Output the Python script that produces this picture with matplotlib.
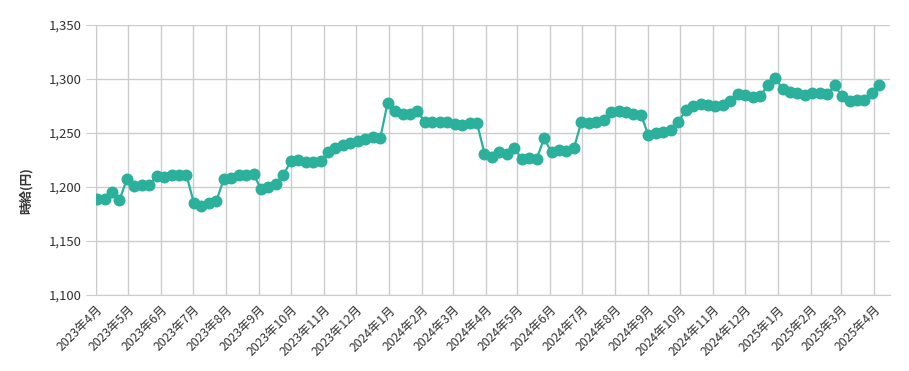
import matplotlib
matplotlib.use("Agg")
import matplotlib.pyplot as plt
import matplotlib.ticker as mticker
import pandas as pd

plt.rcParams["font.family"] = ["Noto Sans CJK JP", "DejaVu Sans"]

# weekly observations, first week of April 2023 to first week of April 2025
week_start = "2023-04-02"
n_weeks = 106
wages = [
    1189, 1189, 1195, 1188, 1207, 1201, 1202, 1202, 1210, 1209,
    1211, 1211, 1211, 1185, 1182, 1185, 1187, 1207, 1208, 1211,
    1211, 1212, 1198, 1200, 1203, 1211, 1224, 1225, 1223, 1223,
    1224, 1232, 1236, 1239, 1241, 1243, 1244, 1246, 1245, 1278,
    1270, 1268, 1268, 1270, 1260, 1260, 1260, 1260, 1258, 1257,
    1259, 1259, 1231, 1228, 1232, 1231, 1236, 1226, 1227, 1226,
    1245, 1232, 1234, 1233, 1236, 1260, 1259, 1260, 1262, 1269,
    1270, 1269, 1268, 1267, 1248, 1250, 1251, 1253, 1260, 1271,
    1275, 1277, 1276, 1275, 1276, 1280, 1286, 1285, 1283, 1284,
    1294, 1301, 1291, 1288, 1287, 1285, 1287, 1287, 1286, 1294,
    1284, 1280, 1281, 1281, 1287, 1294,
]
month_ticks = pd.date_range("2023-04-01", "2025-04-01", freq="MS")
month_labels = [f"{d.year}年{d.month}月" for d in month_ticks]

dates = pd.date_range(week_start, periods=n_weeks, freq="7D")

fig = plt.figure(figsize=(9.09, 3.71), dpi=100)
ax = fig.add_axes([96 / 909, 1 - 295 / 371, (890 - 96) / 909, 270 / 371])

ax.plot(dates, wages, color="#2bb09b", linewidth=1.6, marker="o",
        markersize=8.6, markeredgewidth=0, zorder=3)

ax.set_ylim(1100, 1350)
ax.set_yticks([1100, 1150, 1200, 1250, 1300, 1350])
ax.yaxis.set_major_formatter(mticker.StrMethodFormatter("{x:,.0f}"))
ax.set_xlim(pd.Timestamp("2023-04-01"), pd.Timestamp("2025-04-16"))
ax.set_xticks(month_ticks)
ax.set_xticklabels(month_labels, rotation=45, ha="right", rotation_mode="anchor")

ax.grid(True, color="#cccccc", linewidth=1)
ax.set_axisbelow(True)
for side in ["top", "right"]:
    ax.spines[side].set_visible(False)
for side in ["left", "bottom"]:
    ax.spines[side].set_color("#cccccc")
ax.tick_params(axis="y", length=7, color="#cccccc", labelsize=9.5,
               labelcolor="#333333", pad=3)
ax.tick_params(axis="x", length=0, labelsize=8.8, labelcolor="#333333", pad=6)

ax.set_ylabel("時給(円)", fontsize=9, fontweight="bold", color="#333333")
ax.yaxis.set_label_coords(-0.08, 0.387)

fig.savefig("out.png", dpi=100)
